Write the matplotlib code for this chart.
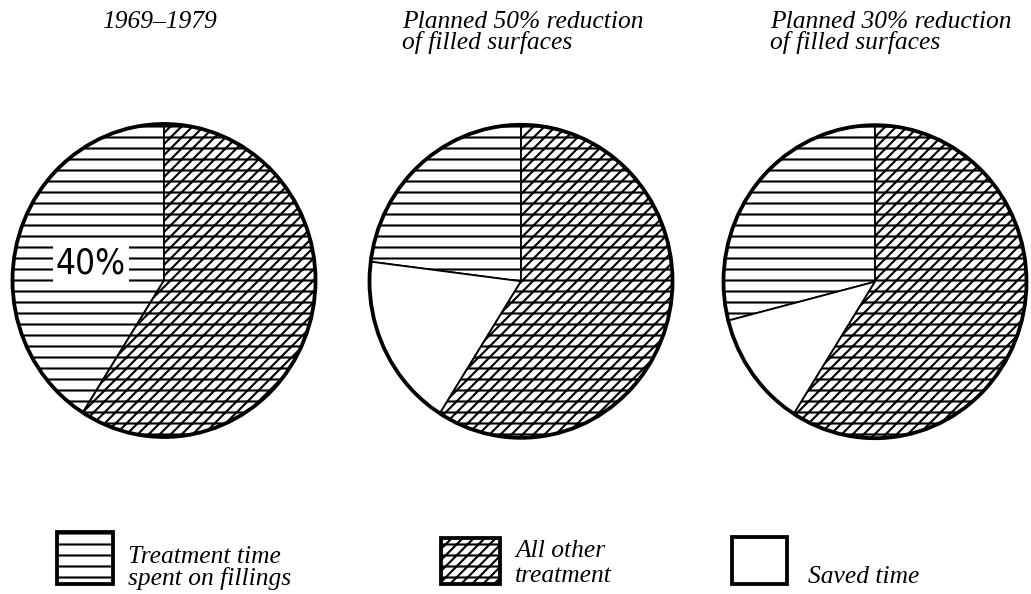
import matplotlib
matplotlib.use("Agg")
import matplotlib.pyplot as plt
from matplotlib.patches import Ellipse, Rectangle

# ---- data ----
titles = [["1969\u20131979"],
          ["Planned 50% reduction", "of filled surfaces"],
          ["Planned 30% reduction", "of filled surfaces"]]
categories = ["Treatment time spent on fillings", "Saved time", "All other treatment"]
fillings = [41, 23, 29]
saved = [0, 18, 12]
other = [59, 59, 59]
center_label = "40%"
legend_labels = [["Treatment time", "spent on fillings"],
                 ["All other", "treatment"],
                 ["Saved time"]]

W, Hpx, DPI = 1031, 594, 66
PT = 72 / DPI  # points per pixel
plt.rcParams['hatch.linewidth'] = 2.3
plt.rcParams['hatch.color'] = 'black'

fig = plt.figure(figsize=(W / DPI, Hpx / DPI), dpi=DPI)
fig.patch.set_facecolor('white')
ax = fig.add_axes([0, 0, 1, 1])

RX, RY = 151.5, 156.5
K = RX / RY
def D(px, py):
    return px, (Hpx - py) * K

centers = [(164, 280.5), (521, 281.3), (875, 281.7)]
hatches = ['-', '', '//-']

for i, (cx, cy) in enumerate(centers):
    vals = [fillings[i], saved[i], other[i]]
    ax.pie(vals, center=D(cx, cy), radius=RX, startangle=90, counterclock=True,
           colors=['white'] * 3, hatch=hatches, frame=True,
           wedgeprops=dict(edgecolor='black', linewidth=1.8 * PT))
    ax.add_patch(Ellipse(D(cx, cy), 2 * RX, 2 * RX, fill=False,
                         edgecolor='black', linewidth=3.8 * PT, zorder=5))

ax.set_xlim(0, W)
ax.set_ylim(0, Hpx * K)
ax.set_aspect('auto')
ax.axis('off')

def T(px, py):
    return px / W, 1 - py / Hpx

serif = dict(family='Liberation Serif', style='italic', fontsize=25.5 * PT)

# titles
title_pos = [(102, 28), (402, 28), (770, 28)]
for (x, y), lines in zip(title_pos, titles):
    for j, ln in enumerate(lines):
        fig.text(*T(x, y + j * 21), ln, ha='left', va='baseline', **serif)

# 40% label
fig.text(*T(91, 264), center_label, ha='center', va='center',
         family='DejaVu Sans', fontstretch='condensed', fontsize=35 * PT,
         bbox=dict(facecolor='white', edgecolor='none', pad=3), zorder=10)

# legend boxes
boxes = [(57, 532, 56, 52, '-'), (441, 538, 59, 46, '//-'), (732, 537, 55, 47, '')]
for (x, y, w, hgt, hh) in boxes:
    x0, y0 = D(x, y + hgt)
    ax.add_patch(Rectangle((x0, y0), w, hgt * K, facecolor='white',
                           edgecolor='black', hatch=hh, linewidth=3.8 * PT, zorder=6))

legend_text_pos = [(128, [563, 585]), (515, [557, 582]), (808, [583])]
for (x, ys), lines in zip(legend_text_pos, legend_labels):
    for yy, ln in zip(ys, lines):
        fig.text(*T(x, yy), ln, ha='left', va='baseline', **serif)

fig.savefig("out.png", dpi=DPI, facecolor='white')
